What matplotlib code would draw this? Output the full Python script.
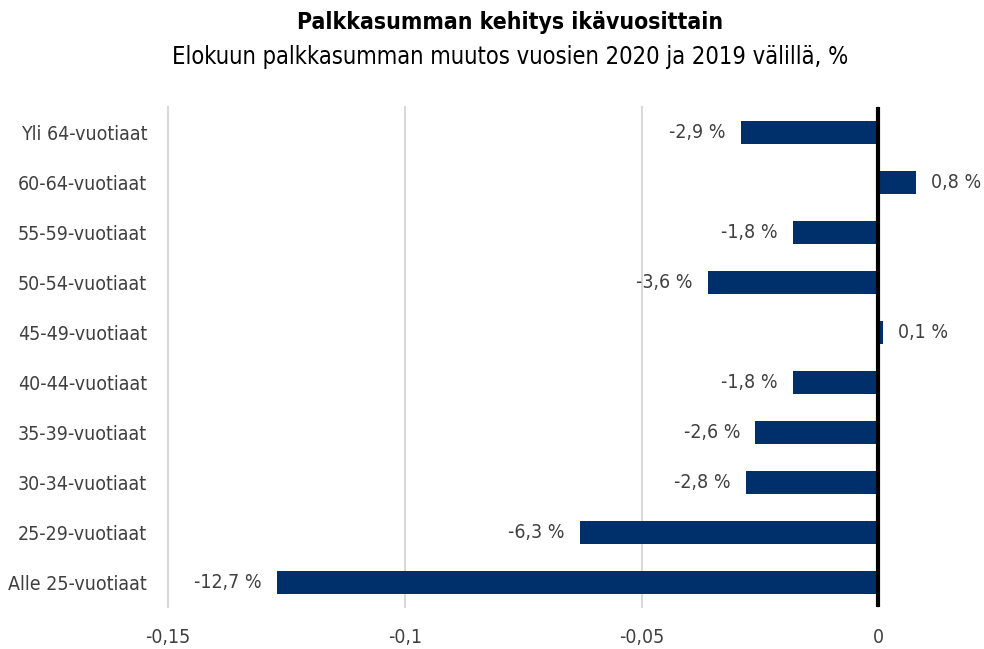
import matplotlib
matplotlib.use("Agg")
import matplotlib.pyplot as plt
from matplotlib.ticker import FixedLocator

plt.rcParams['font.family'] = ['DejaVu Sans']
plt.rcParams['font.stretch'] = 'condensed'

categories = ["Yli 64-vuotiaat", "60-64-vuotiaat", "55-59-vuotiaat", "50-54-vuotiaat",
              "45-49-vuotiaat", "40-44-vuotiaat", "35-39-vuotiaat", "30-34-vuotiaat",
              "25-29-vuotiaat", "Alle 25-vuotiaat"]
values = [-0.029, 0.008, -0.018, -0.036, 0.001, -0.018, -0.026, -0.028, -0.063, -0.127]
labels = ["-2,9 %", "0,8 %", "-1,8 %", "-3,6 %", "0,1 %", "-1,8 %", "-2,6 %", "-2,8 %", "-6,3 %", "-12,7 %"]
xticks = [-0.15, -0.1, -0.05, 0]
xticklabels = ["-0,15", "-0,1", "-0,05", "0"]

fig = plt.figure(figsize=(9.84, 6.49), dpi=100)
ax = fig.add_axes([168/984, 42/649, (973-168)/984, (607-107)/649])

ypos = list(range(len(categories)))
ax.barh(ypos, values, height=0.46, color="#00306B", zorder=3)
ax.set_ylim(len(categories) - 0.5, -0.5)
ax.set_xlim(-0.15, 0.02)

for y, v, t in zip(ypos, values, labels):
    if v < 0:
        ax.annotate(t, (v, y), xytext=(-15, 0), textcoords="offset pixels",
                    ha="right", va="center", fontsize=14, color="#404040")
    else:
        ax.annotate(t, (v, y), xytext=(15, 0), textcoords="offset pixels",
                    ha="left", va="center", fontsize=14, color="#404040")

ax.set_yticks(ypos)
ax.set_yticklabels(categories, fontsize=14, color="#404040")
ax.xaxis.set_major_locator(FixedLocator(xticks))
ax.set_xticklabels(xticklabels, fontsize=14, color="#404040")
ax.tick_params(axis="both", length=0)
ax.tick_params(axis="y", pad=15)
ax.tick_params(axis="x", pad=15)

for s in ax.spines.values():
    s.set_visible(False)
ax.grid(axis="x", color="#D9D9D9", linewidth=1.5, zorder=0)
for gl in ax.get_xgridlines():
    gl.set_clip_on(False)
ax.axvline(0, color="black", linewidth=3, zorder=4)

fig.text(0.518, 1 - 22/649, "Palkkasumman kehitys ikävuosittain", ha="center", va="center",
         fontsize=16.5, fontweight="bold", color="black")
fig.text(0.518, 1 - 57/649, "Elokuun palkkasumman muutos vuosien 2020 ja 2019 välillä, %", ha="center",
         va="center", fontsize=17, color="black")

fig.savefig("out.png", dpi=100)
